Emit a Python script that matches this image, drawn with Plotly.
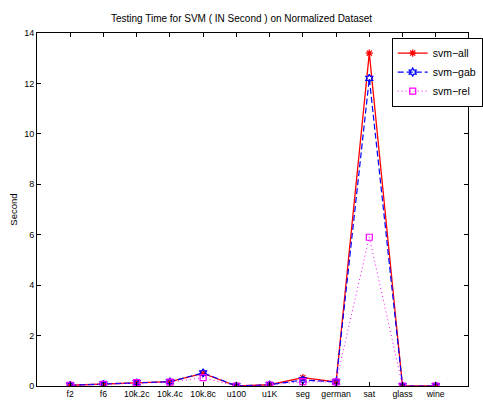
import plotly.graph_objects as go

categories = ["f2", "f6", "10k.2c", "10k.4c", "10k.8c", "u100", "u1K", "seg", "german", "sat", "glass", "wine"]
svm_all = [0.03, 0.07, 0.13, 0.17, 0.50, 0.0, 0.05, 0.33, 0.16, 13.2, 0.0, 0.0]
svm_gab = [0.03, 0.07, 0.13, 0.17, 0.52, 0.0, 0.05, 0.24, 0.16, 12.2, 0.0, 0.0]
svm_rel = [0.03, 0.07, 0.13, 0.15, 0.33, 0.0, 0.04, 0.17, 0.16, 5.9, 0.0, 0.0]
y_ticks = [0, 2, 4, 6, 8, 10, 12, 14]

xpos = list(range(1, len(categories) + 1))

fig = go.Figure()
fig.add_trace(go.Scatter(
    x=xpos, y=svm_all, name="svm\u2212all", mode="lines+markers",
    line=dict(color="#ff0000", width=1.3, dash="solid"),
    marker=dict(symbol="asterisk-open", size=6, color="#ff0000", line=dict(color="#ff0000", width=1.3)),
))
fig.add_trace(go.Scatter(
    x=xpos, y=svm_gab, name="svm\u2212gab", mode="lines+markers",
    line=dict(color="#0000ff", width=1.2, dash="6px,3px"),
    marker=dict(symbol="hexagram-open", size=6, color="#0000ff", line=dict(color="#0000ff", width=1.3)),
))
fig.add_trace(go.Scatter(
    x=xpos, y=svm_rel, name="svm\u2212rel", mode="lines+markers",
    line=dict(color="#ff00ff", width=1, dash="1px,3px"),
    marker=dict(symbol="square-open", size=6, color="#ff00ff", line=dict(color="#ff00ff", width=1.2)),
))

fig.update_layout(
    width=483, height=401,
    margin=dict(l=37, r=0, t=33, b=15),
    paper_bgcolor="white", plot_bgcolor="white",
    font=dict(family="Liberation Sans, Arial, sans-serif", size=9, color="black"),
    title=dict(text="Testing Time for SVM ( IN Second ) on Normalized Dataset",
               x=0.5, xanchor="center", y=0.953, yanchor="middle",
               font=dict(size=10, color="black")),
    showlegend=True,
    legend=dict(x=0.823, y=0.987, xanchor="left", yanchor="top",
                bordercolor="black", borderwidth=1, bgcolor="white",
                font=dict(size=10.5), tracegroupgap=0, itemwidth=30),
)
fig.update_xaxes(
    range=[0, 12.97], tickmode="array", tickvals=xpos, ticktext=categories,
    showgrid=False, zeroline=False, showline=True, linecolor="black", linewidth=1,
    mirror="ticks", ticks="inside", ticklen=4, tickcolor="black",
    tickfont=dict(size=8.7),
)
fig.update_yaxes(
    range=[0, 14], tickmode="array", tickvals=y_ticks,
    showgrid=False, zeroline=False, showline=True, linecolor="black", linewidth=1,
    mirror="ticks", ticks="inside", ticklen=4, tickcolor="black",
    tickfont=dict(size=9),
    title=dict(text="Second", font=dict(size=9.5), standoff=4),
)

fig.write_html("out.html")
